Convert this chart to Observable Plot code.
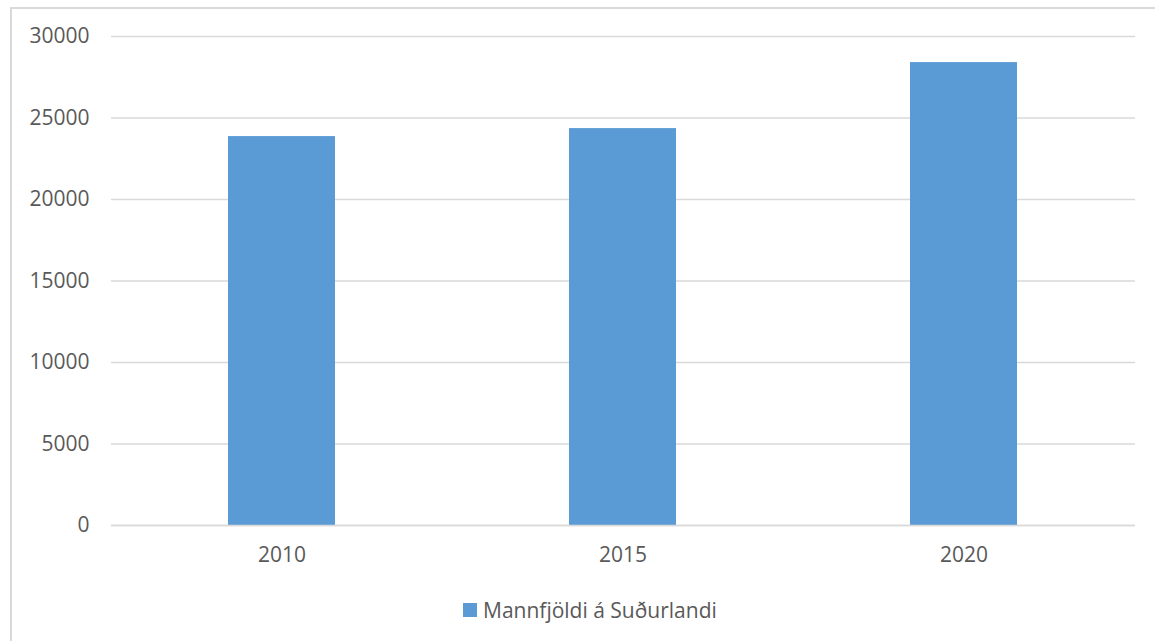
<!DOCTYPE html>
<html>
<head>
<meta charset="utf-8">
<script src="https://cdn.jsdelivr.net/npm/d3@7"></script>
<script src="https://cdn.jsdelivr.net/npm/@observablehq/plot@0.6"></script>
<style>
  html, body { margin: 0; padding: 0; background: #fff; overflow: hidden; }
  #frame {
    position: absolute; left: 10px; top: 7px;
    width: 1200px; height: 700px;
    border-left: 2px solid #d9d9d9; border-top: 2px solid #d9d9d9;
    font-family: "Open Sans", sans-serif; color: #595959;
  }
  #legend {
    display: flex; align-items: center; height: 20px;
    margin-top: 16px; padding-left: 451px;
    font-size: 21px; color: #595959;
  }
  #legend .sw { width: 14px; height: 14px; background: #5b9bd5; margin-right: 6px; }
</style>
</head>
<body>
<div id="frame">
  <div id="chart"></div>
  <div id="legend"><span class="sw"></span><span id="legendLabel"></span></div>
</div>
<script>
const years = ["2010", "2015", "2020"];
const population = [23860, 24350, 28400];
const yTicks = [0, 5000, 10000, 15000, 20000, 25000, 30000];
const seriesName = "Mannfjöldi á Suðurlandi";
const barColor = "#5b9bd5";

const data = years.map((y, i) => ({year: y, value: population[i]}));

const chart = Plot.plot({
  width: 1143,
  height: 575,
  marginLeft: 99,
  marginRight: 20,
  marginTop: 27,
  marginBottom: 59,
  style: {fontFamily: "'Open Sans', sans-serif", fontSize: "21px", color: "#595959", background: "#fff"},
  x: {domain: years, paddingInner: 0.686, paddingOuter: 0.343, label: null},
  y: {domain: [0, 30000], ticks: yTicks, label: null},
  marks: [
    Plot.ruleY(yTicks, {stroke: "#d9d9d9", strokeWidth: 1.5}),
    Plot.barY(data, {x: "year", y: "value", fill: barColor}),
    Plot.ruleY([0], {stroke: "#d9d9d9", strokeWidth: 1.5}),
    Plot.axisY({ticks: yTicks, tickSize: 0, tickPadding: 22, tickFormat: d => String(d), fill: "#595959", fontSize: 21}),
    Plot.axisX({tickSize: 0, tickPadding: 22, fill: "#595959", fontSize: 21})
  ]
});
document.getElementById("chart").appendChild(chart);
document.getElementById("legendLabel").textContent = seriesName;
</script>
</body>
</html>
